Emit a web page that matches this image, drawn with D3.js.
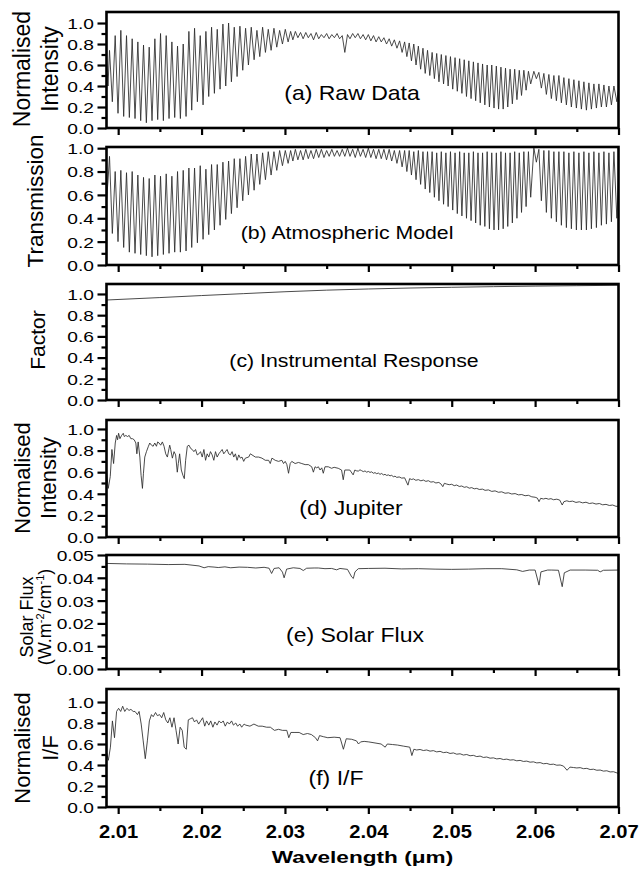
<!DOCTYPE html>
<html>
<head>
<meta charset="utf-8">
<script src="https://cdn.jsdelivr.net/npm/d3@7"></script>
<style>
  body { margin: 0; background: #fff; }
  svg text { font-family: "Liberation Sans", Arial, sans-serif; fill: #000; }
</style>
</head>
<body>
<svg id="chart" width="643" height="875"></svg>
<script>
// shared wavelength grid for the telluric-dominated spectra (a) and (b): alternating peak / line-centre points
const tellWave = [
  2.0086, 2.00878,
  2.00896, 2.0093, 2.00964, 2.00998, 2.01032, 2.01066, 2.011, 2.01134, 2.01168, 2.01202,
  2.01236, 2.0127, 2.01304, 2.01338, 2.01372, 2.01406, 2.0144, 2.01474, 2.01508, 2.01542,
  2.01576, 2.0161, 2.01644, 2.01678, 2.01712, 2.01746, 2.0178, 2.01814, 2.01848, 2.01882,
  2.01916, 2.0195, 2.01984, 2.02018, 2.02052, 2.02086, 2.0212, 2.02154, 2.02188, 2.02222,
  2.02256, 2.0229, 2.02324, 2.02358, 2.02392, 2.02426, 2.0246, 2.02494, 2.02528, 2.02562,
  2.02596, 2.0263, 2.02664, 2.02698, 2.02732, 2.02766, 2.028, 2.02834, 2.02868, 2.02902,
  2.02936, 2.0297, 2.03004, 2.03038,
  2.03068, 2.03095, 2.03125, 2.03155, 2.03187, 2.03218, 2.0325, 2.0328, 2.03312, 2.03343,
  2.03375, 2.03405, 2.03437, 2.03468, 2.035, 2.0353, 2.03562, 2.03593, 2.03625, 2.03655,
  2.03687, 2.03718, 2.0375, 2.0378, 2.03812, 2.03843, 2.03875, 2.03905, 2.03937, 2.03968,
  2.04, 2.0403, 2.04062, 2.04093, 2.04125, 2.04155, 2.04187, 2.04218, 2.0425, 2.0428,
  2.04312, 2.04343, 2.04375, 2.04405, 2.04435, 2.04462, 2.0449, 2.04517, 2.04545, 2.04572,
  2.046, 2.04627, 2.04655, 2.04682, 2.0471, 2.04737, 2.04765, 2.04792, 2.0482, 2.04847,
  2.04875, 2.04902, 2.0493, 2.04957, 2.04985, 2.05012, 2.0504, 2.05067, 2.05095, 2.05122,
  2.0515, 2.05177, 2.05205, 2.05232, 2.0526, 2.05287, 2.05315, 2.05342, 2.0537, 2.05397,
  2.05425, 2.05452, 2.0548, 2.05507, 2.05535, 2.05562, 2.0559, 2.05617, 2.05645, 2.05672,
  2.057, 2.05727, 2.05755, 2.05782, 2.0581, 2.05837, 2.05865, 2.05892, 2.0592, 2.05947,
  2.05985, 2.06015, 2.06045, 2.06075, 2.06105, 2.06135, 2.06165, 2.06195, 2.06225, 2.06255,
  2.06285, 2.06315, 2.06345, 2.06375, 2.06405, 2.06435, 2.06465, 2.06495, 2.06525, 2.06555,
  2.06585, 2.06615, 2.06645, 2.06675, 2.06705, 2.06735, 2.06765, 2.06795, 2.06825, 2.06855,
  2.06885, 2.06915, 2.06945, 2.0698,
  2.07
];

// (a) raw data, normalised intensity
const rawIntensity = [
  0.68, 0.40,
  0.74, 0.25, 0.88, 0.14, 0.93, 0.11, 0.88, 0.10, 0.85, 0.09,
  0.82, 0.07, 0.79, 0.05, 0.77, 0.07, 0.85, 0.08, 0.90, 0.07,
  0.88, 0.09, 0.82, 0.10, 0.78, 0.09, 0.80, 0.11, 0.92, 0.17,
  0.95, 0.25, 0.88, 0.22, 0.92, 0.30, 0.96, 0.33, 0.94, 0.37,
  0.99, 0.40, 1.00, 0.44, 0.96, 0.49, 0.97, 0.55, 0.95, 0.60,
  0.96, 0.65, 0.93, 0.68, 0.96, 0.72, 0.94, 0.74, 0.95, 0.77,
  0.93, 0.80, 0.94, 0.82,
  0.92, 0.84, 0.92, 0.86, 0.91, 0.85, 0.91, 0.86, 0.90, 0.84,
  0.91, 0.85, 0.89, 0.86, 0.90, 0.85, 0.89, 0.86, 0.90, 0.85,
  0.88, 0.72, 0.89, 0.85, 0.90, 0.86, 0.90, 0.85, 0.89, 0.84,
  0.89, 0.83, 0.88, 0.82, 0.87, 0.82, 0.86, 0.80, 0.85, 0.78,
  0.84, 0.76, 0.83, 0.72, 0.82, 0.68, 0.81, 0.64, 0.80, 0.60,
  0.78, 0.56, 0.76, 0.52, 0.74, 0.50, 0.72, 0.47, 0.71, 0.44,
  0.70, 0.42, 0.69, 0.40, 0.68, 0.37, 0.67, 0.35, 0.66, 0.33,
  0.65, 0.30, 0.64, 0.28, 0.63, 0.26, 0.62, 0.24, 0.61, 0.22,
  0.60, 0.20, 0.60, 0.19, 0.59, 0.18, 0.58, 0.18, 0.57, 0.20,
  0.56, 0.23, 0.56, 0.27, 0.55, 0.31, 0.55, 0.36, 0.54, 0.42,
  0.54, 0.47, 0.53, 0.38, 0.52, 0.32, 0.51, 0.28, 0.50, 0.26,
  0.50, 0.24, 0.48, 0.22, 0.47, 0.20, 0.46, 0.19, 0.45, 0.18,
  0.44, 0.17, 0.43, 0.18, 0.42, 0.19, 0.42, 0.20, 0.41, 0.20,
  0.40, 0.22, 0.40, 0.25,
  0.37
];

// (b) atmospheric model transmission
const transmission = [
  0.55, 0.72,
  0.93, 0.27, 0.80, 0.20, 0.81, 0.15, 0.79, 0.11, 0.80, 0.10,
  0.77, 0.09, 0.75, 0.08, 0.74, 0.07, 0.77, 0.08, 0.76, 0.09,
  0.78, 0.10, 0.76, 0.11, 0.80, 0.11, 0.81, 0.12, 0.83, 0.15,
  0.83, 0.19, 0.85, 0.22, 0.82, 0.26, 0.86, 0.30, 0.86, 0.34,
  0.88, 0.39, 0.89, 0.44, 0.91, 0.49, 0.91, 0.55, 0.93, 0.60,
  0.95, 0.64, 0.95, 0.69, 0.96, 0.73, 0.97, 0.77, 0.97, 0.81,
  0.98, 0.85, 0.98, 0.87,
  0.98, 0.89, 0.99, 0.90, 0.98, 0.90, 0.99, 0.91, 0.98, 0.91,
  0.99, 0.92, 0.99, 0.92, 0.98, 0.93, 0.99, 0.93, 0.98, 0.93,
  0.99, 0.93, 1.00, 0.93, 0.99, 0.92, 1.00, 0.93, 0.99, 0.92,
  1.00, 0.92, 0.99, 0.91, 0.99, 0.91, 0.99, 0.90, 0.99, 0.89,
  0.98, 0.87, 0.98, 0.84, 0.98, 0.80, 0.98, 0.77, 0.97, 0.73,
  0.98, 0.69, 0.97, 0.65, 0.97, 0.62, 0.97, 0.58, 0.96, 0.55,
  0.97, 0.52, 0.96, 0.50, 0.97, 0.47, 0.96, 0.44, 0.97, 0.42,
  0.96, 0.40, 0.96, 0.38, 0.97, 0.36, 0.96, 0.34, 0.96, 0.33,
  0.97, 0.31, 0.96, 0.30, 0.96, 0.30, 0.97, 0.31, 0.96, 0.33,
  0.96, 0.36, 0.97, 0.40, 0.96, 0.45, 0.97, 0.50, 0.97, 0.58,
  1.00, 0.88, 0.99, 0.55, 0.98, 0.45, 0.98, 0.40, 0.97, 0.37,
  0.97, 0.34, 0.97, 0.32, 0.96, 0.31, 0.97, 0.30, 0.96, 0.30,
  0.97, 0.30, 0.96, 0.31, 0.97, 0.32, 0.96, 0.34, 0.97, 0.35,
  0.96, 0.37, 0.97, 0.40,
  0.75
];

// (c) instrumental response
const responseWave = [2.0086, 2.015, 2.02, 2.025, 2.03, 2.035, 2.04, 2.045, 2.05, 2.055, 2.06, 2.065, 2.07];
const responseFactor = [0.943, 0.966, 0.985, 1.003, 1.021, 1.036, 1.047, 1.056, 1.063, 1.069, 1.074, 1.078, 1.082];

// (d) Jupiter, normalised intensity [wavelength, value]
const jupiterSpec = [
  [2.0086,0.6],[2.00881,0.45],[2.00905,0.56],[2.00925,0.81],[2.00945,0.68],[2.00965,0.87],[2.00981,0.94],[2.00993,0.9],
  [2.01005,0.96],[2.01021,0.91],[2.01041,0.94],[2.01061,0.96],[2.01073,0.93],[2.01092,0.94],[2.01112,0.93],[2.01132,0.94],
  [2.01152,0.91],[2.01172,0.91],[2.01192,0.9],[2.01212,0.87],[2.01224,0.77],[2.0124,0.88],[2.0126,0.74],[2.01275,0.57],
  [2.01291,0.45],[2.01303,0.59],[2.01319,0.74],[2.01339,0.79],[2.01363,0.84],[2.01379,0.87],[2.01399,0.85],[2.01419,0.84],
  [2.01439,0.87],[2.01459,0.84],[2.01474,0.88],[2.0149,0.87],[2.0151,0.85],[2.0153,0.88],[2.0155,0.84],[2.0157,0.77],
  [2.0159,0.74],[2.0161,0.82],[2.01618,0.85],[2.0163,0.81],[2.0165,0.73],[2.0167,0.79],[2.01689,0.76],[2.01709,0.6],
  [2.01721,0.68],[2.01737,0.77],[2.01757,0.62],[2.01777,0.57],[2.01793,0.54],[2.01809,0.71],[2.01829,0.84],[2.01849,0.85],
  [2.01869,0.82],[2.01888,0.81],[2.01908,0.79],[2.01928,0.81],[2.01948,0.76],[2.01968,0.77],[2.01988,0.79],[2.02008,0.74],
  [2.02028,0.81],[2.02048,0.71],[2.02067,0.77],[2.02087,0.74],[2.02107,0.79],[2.02127,0.76],[2.02147,0.71],[2.02167,0.79],
  [2.02187,0.74],[2.02207,0.77],[2.02227,0.79],[2.02247,0.81],[2.02266,0.77],[2.02286,0.79],[2.02306,0.81],[2.02326,0.77],
  [2.02346,0.76],[2.02366,0.79],[2.02386,0.74],[2.02406,0.77],[2.02426,0.71],[2.02446,0.76],[2.02466,0.73],[2.02485,0.74],
  [2.02505,0.7],[2.02525,0.73],[2.02565,0.74],[2.02585,0.77],[2.02605,0.76],[2.02645,0.74],[2.02684,0.74],[2.02724,0.73],
  [2.02764,0.71],[2.02804,0.71],[2.02824,0.68],[2.02844,0.73],[2.02883,0.71],[2.02923,0.7],[2.02963,0.71],[2.02983,0.68],
  [2.03003,0.7],[2.03023,0.67],[2.03043,0.59],[2.03063,0.68],[2.03082,0.7],[2.03122,0.68],[2.03162,0.69],[2.03202,0.68],
  [2.03242,0.67],[2.03281,0.67],[2.03321,0.65],[2.03341,0.6],[2.03361,0.65],[2.03381,0.64],[2.03401,0.65],[2.03421,0.62],
  [2.03441,0.64],[2.0346,0.59],[2.0348,0.65],[2.0352,0.65],[2.03559,0.636],[2.0359,0.645],[2.03639,0.636],[2.03679,0.62],
  [2.03699,0.53],[2.03718,0.62],[2.03778,0.62],[2.03818,0.575],[2.03838,0.62],[2.0386,0.612],
  [2.0388,0.61],[2.039,0.622],[2.03917,0.615],[2.0394,0.605],[2.0396,0.612],[2.0398,0.6],[2.04,0.607],[2.0402,0.598],
  [2.0404,0.603],[2.0406,0.59],[2.0408,0.596],[2.041,0.586],[2.0412,0.592],[2.0414,0.58],[2.0416,0.588],[2.0418,0.575],
  [2.042,0.58],[2.0422,0.57],[2.0424,0.575],[2.0426,0.566],[2.0428,0.571],[2.043,0.558],[2.0432,0.563],[2.0434,0.552],
  [2.0437,0.556],[2.044,0.545],[2.04435,0.548],[2.04475,0.48],[2.04495,0.54],[2.0452,0.532],[2.0454,0.538],[2.0457,0.525],
  [2.046,0.531],[2.0463,0.52],[2.0466,0.527],[2.0469,0.515],[2.0472,0.521],[2.0475,0.508],[2.0478,0.512],[2.0481,0.5],
  [2.04845,0.505],[2.0487,0.492],[2.04893,0.466],[2.04912,0.497],[2.0494,0.49],[2.0497,0.484],[2.05,0.488],[2.0503,0.475],
  [2.0506,0.481],[2.0509,0.468],[2.0512,0.472],[2.0515,0.46],[2.0518,0.465],[2.0521,0.452],[2.0524,0.457],[2.0527,0.446],
  [2.053,0.45],[2.0533,0.44],[2.0537,0.443],[2.054,0.432],[2.0544,0.436],[2.0548,0.422],[2.0552,0.427],[2.0556,0.414],
  [2.056,0.418],[2.0564,0.405],[2.0568,0.409],[2.0572,0.398],[2.0576,0.402],[2.058,0.39],[2.0584,0.393],[2.0588,0.382],
  [2.0592,0.386],[2.0596,0.372],[2.06,0.368],[2.06027,0.36],[2.06047,0.327],[2.06067,0.358],[2.061,0.352],[2.0613,0.358],
  [2.0616,0.35],[2.0619,0.355],[2.0622,0.345],[2.0626,0.35],[2.06295,0.342],[2.06325,0.296],[2.06345,0.327],[2.0638,0.335],
  [2.0641,0.328],[2.0645,0.332],[2.0649,0.32],[2.0653,0.326],[2.0657,0.316],[2.0661,0.322],[2.0665,0.31],[2.0669,0.315],
  [2.0673,0.305],[2.0677,0.31],[2.0681,0.298],[2.0685,0.302],[2.0689,0.292],[2.0693,0.296],[2.0697,0.284],[2.07,0.285]
];

// (e) solar flux, W m-2 / cm-1
const solarSpec = [
  [2.0086,0.0463],[2.011,0.0461],[2.0135,0.046],[2.016,0.0458],[2.018,0.0459],[2.0197,0.0452],[2.0203,0.0444],[2.0208,0.0449],
  [2.0215,0.0447],[2.022,0.0445],[2.0228,0.0448],[2.0235,0.0444],[2.0245,0.0447],[2.0255,0.0446],[2.0265,0.0443],[2.0275,0.0446],
  [2.0281,0.0442],[2.0284,0.0419],[2.0287,0.0441],[2.0293,0.0444],[2.0297,0.0425],[2.0299,0.04],[2.0302,0.0438],[2.031,0.0444],
  [2.0318,0.0441],[2.0322,0.0432],[2.0326,0.0442],[2.0335,0.0443],[2.034,0.0443],[2.0348,0.044],[2.0356,0.0441],[2.0362,0.0435],
  [2.0366,0.0441],[2.0375,0.0437],[2.038,0.0404],[2.0382,0.0397],[2.0384,0.0426],[2.0388,0.044],[2.04,0.0441],[2.042,0.0442],
  [2.044,0.0439],[2.046,0.044],[2.048,0.0438],[2.05,0.0437],[2.052,0.0438],[2.054,0.044],[2.056,0.044],[2.0578,0.0435],
  [2.0585,0.0428],[2.0593,0.0434],[2.06,0.0434],[2.06047,0.0368],[2.0607,0.0426],[2.0615,0.0434],[2.062,0.0434],[2.0628,0.0433],
  [2.06325,0.0361],[2.0635,0.0422],[2.0642,0.0434],[2.066,0.0434],[2.0675,0.0433],[2.0678,0.0426],[2.0682,0.0433],[2.07,0.0434]
];

// (f) normalised I/F
const ifSpec = [
  [2.0086,0.52],[2.00882,0.445],[2.00907,0.57],[2.00931,0.82],[2.00956,0.66],[2.00981,0.91],[2.01005,0.94],[2.0103,0.91],
  [2.01054,0.96],[2.01079,0.91],[2.01104,0.94],[2.0113,0.92],[2.01153,0.93],[2.0118,0.91],[2.01202,0.91],[2.01231,0.88],
  [2.01251,0.91],[2.01276,0.79],[2.013,0.63],[2.01325,0.46],[2.0135,0.63],[2.01374,0.82],[2.01399,0.88],[2.0142,0.86],
  [2.01448,0.9],[2.0147,0.87],[2.01497,0.88],[2.01522,0.85],[2.01546,0.9],[2.01571,0.83],[2.01596,0.8],[2.0162,0.85],
  [2.01645,0.76],[2.0167,0.85],[2.01694,0.73],[2.01719,0.6],[2.01743,0.76],[2.01768,0.73],[2.01792,0.57],[2.01817,0.55],
  [2.01841,0.83],[2.01865,0.84],[2.01891,0.85],[2.01915,0.81],[2.0194,0.83],[2.01965,0.79],[2.01989,0.82],[2.02013,0.85],
  [2.02038,0.77],[2.0206,0.82],[2.02087,0.78],[2.0211,0.82],[2.02136,0.76],[2.0216,0.81],[2.02186,0.78],[2.0221,0.82],
  [2.02235,0.8],[2.0226,0.82],[2.02284,0.77],[2.0231,0.81],[2.02333,0.79],[2.0236,0.82],[2.02382,0.78],[2.0241,0.8],
  [2.02432,0.77],[2.0246,0.79],[2.02481,0.76],[2.0251,0.79],[2.0253,0.78],[2.0258,0.77],[2.02628,0.79],[2.0268,0.77],
  [2.02727,0.77],[2.0278,0.76],[2.02825,0.76],[2.02874,0.73],[2.02923,0.74],[2.0297,0.73],[2.03022,0.73],[2.03046,0.66],
  [2.03071,0.71],[2.0312,0.71],[2.0317,0.71],[2.03219,0.69],[2.0327,0.7],[2.03317,0.69],[2.03366,0.66],[2.03391,0.63],
  [2.03415,0.68],[2.0346,0.67],[2.03514,0.66],[2.0359,0.665],[2.03661,0.66],[2.03701,0.55],[2.03735,0.65],[2.038,0.645],
  [2.03858,0.63],[2.03882,0.6],[2.03907,0.62],[2.0395,0.625],[2.04005,0.62],[2.0408,0.61],[2.04153,0.6],[2.04202,0.57],
  [2.04227,0.6],[2.0429,0.595],[2.0435,0.59],[2.0442,0.58],[2.04497,0.57],[2.04522,0.49],[2.04546,0.55],
  [2.0458,0.543],[2.0462,0.548],[2.0466,0.538],[2.047,0.543],[2.0474,0.532],[2.0478,0.537],[2.0482,0.525],[2.0486,0.53],
  [2.049,0.518],[2.0494,0.522],[2.0498,0.51],[2.0502,0.515],[2.0506,0.503],[2.051,0.507],[2.0514,0.495],[2.0518,0.5],
  [2.0522,0.488],[2.0526,0.492],[2.053,0.48],[2.0534,0.485],[2.0538,0.472],[2.0542,0.476],[2.0546,0.465],[2.055,0.468],
  [2.0554,0.458],[2.0558,0.462],[2.0562,0.452],[2.0566,0.456],[2.057,0.447],[2.0574,0.45],[2.0578,0.44],[2.0582,0.444],
  [2.0586,0.434],[2.059,0.437],[2.0594,0.427],[2.0598,0.43],[2.0602,0.42],[2.0606,0.423],[2.061,0.412],[2.0614,0.415],
  [2.0618,0.405],[2.0622,0.408],[2.0626,0.398],[2.063,0.4],[2.0634,0.39],[2.06383,0.35],[2.06418,0.38],[2.0646,0.376],
  [2.065,0.372],[2.0654,0.375],[2.0658,0.365],[2.0662,0.368],[2.0666,0.357],[2.067,0.36],[2.0674,0.35],[2.0678,0.352],
  [2.0682,0.342],[2.0686,0.345],[2.069,0.334],[2.0694,0.336],[2.0698,0.325],[2.07,0.318]
];

// tick values
const xMajorTicks = [2.01, 2.02, 2.03, 2.04, 2.05, 2.06, 2.07];
const xMinorTicks = [2.015, 2.025, 2.035, 2.045, 2.055, 2.065];
const unitTicks = [0, 0.2, 0.4, 0.6, 0.8, 1.0];
const unitMinorTicks = [0.1, 0.3, 0.5, 0.7, 0.9];
const fluxTicks = [0, 0.01, 0.02, 0.03, 0.04, 0.05];
const fluxMinorTicks = [0.005, 0.015, 0.025, 0.035, 0.045];

const svg = d3.select('#chart');
const FONT = '"Liberation Sans", Arial, sans-serif';
const plotLeft = 106.5, plotRight = 618.5;
const x = d3.scaleLinear().domain([2.0086, 2.07]).range([plotLeft, plotRight]);

const panels = [
  { id: 'a', top: 12, bottom: 128, yMax: 1.105, data: d3.zip(tellWave, rawIntensity),
    ticks: unitTicks, minor: unitMinorTicks, fmt: d3.format('.1f'),
    title: '(a) Raw Data', titleX: 352, titleY: 100, titleSize: 20,
    labels: [{ text: 'Normalised', x: 30, size: 23 }, { text: 'Intensity', x: 58, size: 23 }], labelY: 69 },
  { id: 'b', top: 147, bottom: 265, yMax: 1.01, data: d3.zip(tellWave, transmission),
    ticks: unitTicks, minor: unitMinorTicks, fmt: d3.format('.1f'),
    title: '(b) Atmospheric Model', titleX: 347, titleY: 239, titleSize: 18.5,
    labels: [{ text: 'Transmission', x: 43, size: 22.5 }], labelY: 201 },
  { id: 'c', top: 284, bottom: 400, yMax: 1.094, data: d3.zip(responseWave, responseFactor),
    ticks: unitTicks, minor: unitMinorTicks, fmt: d3.format('.1f'),
    title: '(c) Instrumental Response', titleX: 354, titleY: 367, titleSize: 18.5,
    labels: [{ text: 'Factor', x: 45, size: 21 }], labelY: 340 },
  { id: 'd', top: 420, bottom: 537, yMax: 1.083, data: jupiterSpec,
    ticks: unitTicks, minor: unitMinorTicks, fmt: d3.format('.1f'),
    title: '(d) Jupiter', titleX: 351, titleY: 515, titleSize: 20,
    labels: [{ text: 'Normalised', x: 30, size: 22 }, { text: 'Intensity', x: 56, size: 22 }], labelY: 478 },
  { id: 'e', top: 555, bottom: 669, yMax: 0.05, data: solarSpec,
    ticks: fluxTicks, minor: fluxMinorTicks, fmt: d3.format('.2f'),
    title: '(e) Solar Flux', titleX: 355, titleY: 642, titleSize: 20,
    labels: [{ text: 'Solar Flux', x: 33, size: 18 }, { text: 'flux-unit', x: 51, size: 18 }], labelY: 617 },
  { id: 'f', top: 689, bottom: 807, yMax: 1.124, data: ifSpec,
    ticks: unitTicks, minor: unitMinorTicks, fmt: d3.format('.1f'),
    title: '(f) I/F', titleX: 336, titleY: 785, titleSize: 20,
    labels: [{ text: 'Normalised', x: 30, size: 22 }, { text: 'I/F', x: 58, size: 22 }], labelY: 748 },
];

function styleAxis(g) {
  g.select('.domain').remove();
  g.selectAll('line').attr('stroke', '#000').attr('stroke-width', 2.2);
  g.attr('font-family', FONT);
}

panels.forEach((p, i) => {
  const y = d3.scaleLinear().domain([0, p.yMax]).range([p.bottom, p.top]);
  const g = svg.append('g').attr('class', 'panel-' + p.id);

  g.append('clipPath').attr('id', 'clip-' + p.id)
    .append('rect')
    .attr('x', plotLeft).attr('y', p.top)
    .attr('width', plotRight - plotLeft).attr('height', p.bottom - p.top);

  // spectrum
  const line = d3.line().x(d => x(d[0])).y(d => y(d[1]));
  g.append('path')
    .datum(p.data)
    .attr('clip-path', `url(#clip-${p.id})`)
    .attr('fill', 'none')
    .attr('stroke', '#2a2a2a')
    .attr('stroke-width', 0.85)
    .attr('stroke-linejoin', 'round')
    .attr('d', line);

  // x ticks under every panel, labels only on the last one
  const isLast = i === panels.length - 1;
  g.append('g')
    .attr('transform', `translate(0,${p.bottom})`)
    .call(d3.axisBottom(x).tickValues(xMinorTicks).tickSize(4).tickFormat(''))
    .call(styleAxis);
  const xAx = g.append('g')
    .attr('transform', `translate(0,${p.bottom})`)
    .call(d3.axisBottom(x).tickValues(xMajorTicks).tickSize(7)
      .tickFormat(isLast ? d3.format('.2f') : ''))
    .call(styleAxis);
  if (isLast) {
    xAx.selectAll('text')
      .attr('y', 0).attr('dy', 0)
      .attr('font-size', 18).attr('font-weight', 'bold')
      .attr('transform', `translate(0,${838 - p.bottom}) scale(1.12,1)`);
  }

  // y ticks
  g.append('g')
    .attr('transform', `translate(${plotLeft},0)`)
    .call(d3.axisLeft(y).tickValues(p.minor).tickSize(5).tickFormat(''))
    .call(styleAxis);
  g.append('g')
    .attr('transform', `translate(${plotLeft},0)`)
    .call(d3.axisLeft(y).tickValues(p.ticks).tickSize(9).tickFormat(p.fmt))
    .call(styleAxis)
    .selectAll('text')
    .attr('x', 0).attr('dy', '0.36em')
    .attr('font-size', 15)
    .attr('transform', 'translate(-12.5,0) scale(1.28,1)');

  // frame
  g.append('rect')
    .attr('x', plotLeft).attr('y', p.top)
    .attr('width', plotRight - plotLeft).attr('height', p.bottom - p.top)
    .attr('fill', 'none').attr('stroke', '#000').attr('stroke-width', 2.6);

  // panel caption
  g.append('text')
    .attr('text-anchor', 'middle')
    .attr('font-size', p.titleSize)
    .attr('transform', `translate(${p.titleX},${p.titleY}) scale(1.15,1)`)
    .text(p.title);

  // y-axis title lines
  p.labels.forEach(l => {
    const t = g.append('text')
      .attr('text-anchor', 'middle')
      .attr('font-size', l.size)
      .attr('transform', `translate(${l.x},${p.labelY}) rotate(-90)`);
    if (l.text === 'flux-unit') {
      t.append('tspan').text('(W.m');
      t.append('tspan').attr('dy', -7).attr('font-size', 11).text('-2');
      t.append('tspan').attr('dy', 7).text('/cm');
      t.append('tspan').attr('dy', -7).attr('font-size', 11).text('-1');
      t.append('tspan').attr('dy', 7).text(')');
    } else {
      t.text(l.text);
    }
  });
});

// x-axis title
svg.append('text')
  .attr('text-anchor', 'middle')
  .attr('font-size', 17)
  .attr('font-weight', 'bold')
  .attr('transform', `translate(${(plotLeft + plotRight) / 2},863) scale(1.33,1)`)
  .text('Wavelength (\u03bcm)');
</script>
</body>
</html>
